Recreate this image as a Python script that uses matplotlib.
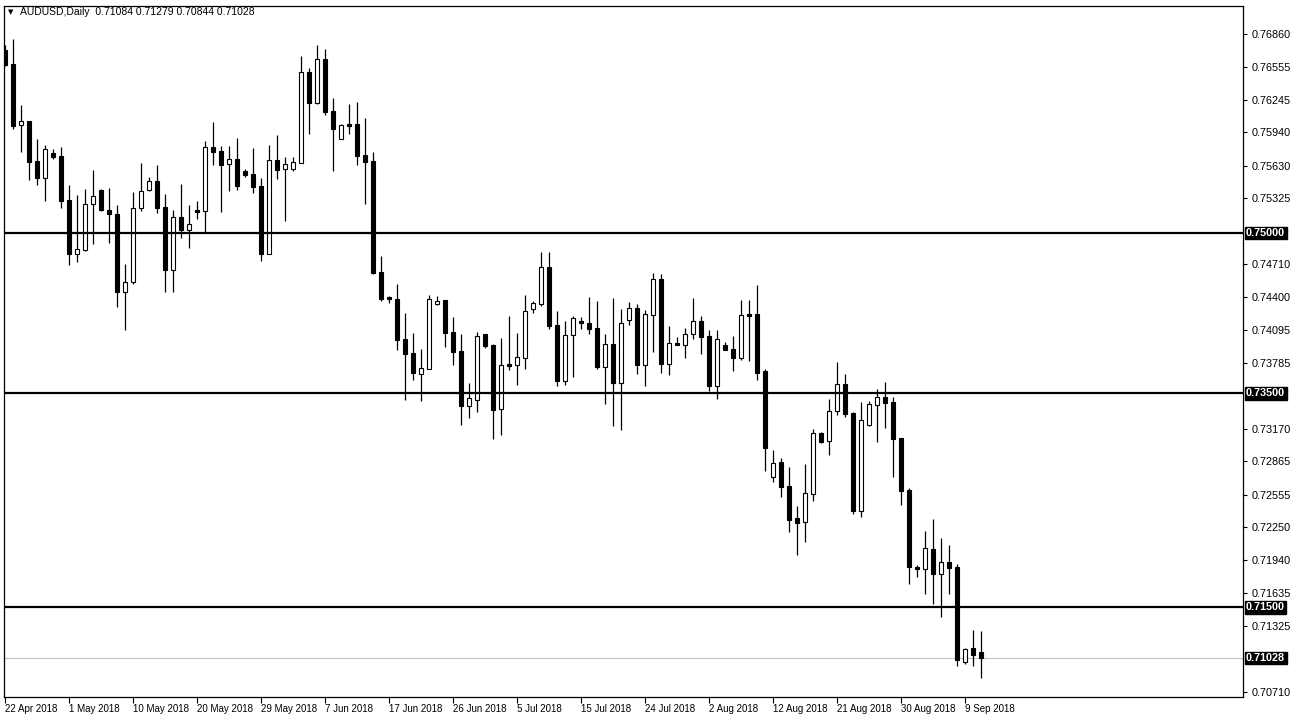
import matplotlib
matplotlib.use("Agg")
import matplotlib.pyplot as plt
from matplotlib.transforms import blended_transform_factory
import numpy as np

# AUDUSD daily candles, 22 Apr 2018 -> 11 Sep 2018
opens = [0.76711, 0.76580, 0.76007, 0.76047, 0.75673, 0.75517, 0.75748, 0.75720, 0.75309, 0.74801,
         0.74841, 0.75268, 0.75402, 0.75215, 0.75178, 0.74452, 0.74545, 0.75237, 0.75405, 0.75486,
         0.75243, 0.74657, 0.75150, 0.75031, 0.75215, 0.75209, 0.75801, 0.75764, 0.75642, 0.75689,
         0.75580, 0.75552, 0.75440, 0.74807, 0.75683, 0.75601, 0.75601, 0.75657, 0.76505, 0.76218,
         0.76627, 0.76143, 0.75882, 0.76019, 0.76019, 0.75729, 0.75673, 0.74633, 0.74402, 0.74383,
         0.74010, 0.73879, 0.73685, 0.73732, 0.74340, 0.74374, 0.74075, 0.73897, 0.73386, 0.73442,
         0.74056, 0.73954, 0.73358, 0.73776, 0.73769, 0.73835, 0.74293, 0.74340, 0.74683, 0.74140,
         0.73620, 0.74050, 0.74178, 0.74159, 0.74112, 0.73751, 0.73963, 0.73601, 0.74190, 0.74296,
         0.73769, 0.74231, 0.74567, 0.73779, 0.73969, 0.73956, 0.74053, 0.74175, 0.74035, 0.73573,
         0.73951, 0.73913, 0.73835, 0.74243, 0.74243, 0.73710, 0.72717, 0.72860, 0.72636, 0.72339,
         0.72302, 0.72564, 0.73131, 0.73059, 0.73339, 0.73589, 0.73318, 0.72405, 0.73209, 0.73395,
         0.73467, 0.73421, 0.73084, 0.72601, 0.71881, 0.71857, 0.72047, 0.71816, 0.71925, 0.71878,
         0.70993, 0.71124, 0.71084]
highs = [0.76757, 0.76811, 0.76197, 0.76047, 0.75879, 0.75823, 0.75785, 0.75804, 0.75449, 0.75355,
         0.75411, 0.75589, 0.75411, 0.75421, 0.75262, 0.74711, 0.75384, 0.75655, 0.75524, 0.75636,
         0.75365, 0.75215, 0.75458, 0.75262, 0.75299, 0.75857, 0.76038, 0.75811, 0.75811, 0.75885,
         0.75598, 0.75798, 0.75514, 0.75823, 0.75916, 0.75713, 0.75713, 0.76655, 0.76545, 0.76757,
         0.76720, 0.76262, 0.76019, 0.76206, 0.76225, 0.76075, 0.75760, 0.74785, 0.74414, 0.74524,
         0.74252, 0.74066, 0.73916, 0.74421, 0.74411, 0.74374, 0.74215, 0.74056, 0.73598, 0.74075,
         0.74056, 0.73963, 0.74019, 0.74225, 0.74066, 0.74421, 0.74365, 0.74823, 0.74823, 0.74271,
         0.74178, 0.74225, 0.74215, 0.74402, 0.74365, 0.74056, 0.74393, 0.74290, 0.74355, 0.74337,
         0.74281, 0.74626, 0.74617, 0.74131, 0.74028, 0.74112, 0.74393, 0.74222, 0.74094, 0.74094,
         0.73979, 0.74035, 0.74374, 0.74374, 0.74514, 0.73729, 0.72972, 0.72897, 0.72813, 0.72451,
         0.72844, 0.73168, 0.73140, 0.73449, 0.73795, 0.73682, 0.73327, 0.73421, 0.73430, 0.73542,
         0.73608, 0.73467, 0.73084, 0.72620, 0.71900, 0.72215, 0.72327, 0.72150, 0.72084, 0.71909,
         0.71124, 0.71290, 0.71279]
lows = [0.76561, 0.75975, 0.75760, 0.75496, 0.75449, 0.75302, 0.75695, 0.75237, 0.74704, 0.74732,
        0.74835, 0.74900, 0.75206, 0.74910, 0.74311, 0.74094, 0.74526, 0.75209, 0.75396, 0.75190,
        0.74452, 0.74452, 0.74956, 0.74863, 0.75134, 0.74997, 0.75636, 0.75199, 0.75396, 0.75405,
        0.75527, 0.75377, 0.74741, 0.74807, 0.75508, 0.75115, 0.75583, 0.75652, 0.75928, 0.76209,
        0.76106, 0.75583, 0.75882, 0.75928, 0.75639, 0.75274, 0.74620, 0.74367, 0.74349, 0.73910,
        0.73442, 0.73629, 0.73433, 0.73732, 0.74330, 0.73938, 0.73769, 0.73209, 0.73274, 0.73330,
        0.73928, 0.73078, 0.73115, 0.73723, 0.73582, 0.73732, 0.74255, 0.74321, 0.74106, 0.73573,
        0.73582, 0.73657, 0.74106, 0.74059, 0.73732, 0.73405, 0.73199, 0.73162, 0.74143, 0.73685,
        0.73573, 0.73891, 0.73695, 0.73676, 0.73956, 0.73835, 0.74012, 0.73872, 0.73526, 0.73452,
        0.73910, 0.73713, 0.73816, 0.73807, 0.73629, 0.72779, 0.72676, 0.72536, 0.72208, 0.71993,
        0.72115, 0.72498, 0.73040, 0.72928, 0.73302, 0.73283, 0.72377, 0.72349, 0.73199, 0.73050,
        0.73181, 0.72723, 0.72461, 0.71723, 0.71788, 0.71629, 0.71536, 0.71414, 0.71629, 0.70956,
        0.70975, 0.70956, 0.70844]
closes = [0.76570, 0.76003, 0.76047, 0.75667, 0.75517, 0.75785, 0.75713, 0.75302, 0.74801, 0.74851,
          0.75271, 0.75346, 0.75215, 0.75175, 0.74452, 0.74545, 0.75231, 0.75393, 0.75486, 0.75237,
          0.74657, 0.75150, 0.75031, 0.75082, 0.75199, 0.75801, 0.75760, 0.75639, 0.75689, 0.75442,
          0.75545, 0.75433, 0.74807, 0.75683, 0.75592, 0.75645, 0.75664, 0.76505, 0.76218, 0.76627,
          0.76134, 0.75975, 0.76010, 0.76003, 0.75723, 0.75667, 0.74629, 0.74386, 0.74386, 0.74003,
          0.73872, 0.73695, 0.73736, 0.74383, 0.74365, 0.74068, 0.73891, 0.73386, 0.73458, 0.74038,
          0.73947, 0.73349, 0.73764, 0.73760, 0.73841, 0.74271, 0.74346, 0.74683, 0.74134, 0.73620,
          0.74047, 0.74206, 0.74162, 0.74106, 0.73751, 0.73963, 0.73601, 0.74159, 0.74296, 0.73769,
          0.74240, 0.74567, 0.73779, 0.73969, 0.73956, 0.74053, 0.74175, 0.74031, 0.73573, 0.74007,
          0.73910, 0.73835, 0.74231, 0.74227, 0.73695, 0.72994, 0.72851, 0.72629, 0.72321, 0.72293,
          0.72570, 0.73131, 0.73047, 0.73337, 0.73589, 0.73311, 0.72405, 0.73252, 0.73403, 0.73467,
          0.73414, 0.73078, 0.72592, 0.71881, 0.71857, 0.72053, 0.71816, 0.71925, 0.71872, 0.71012,
          0.71109, 0.71059, 0.71028]

date_labels = ["22 Apr 2018", "1 May 2018", "10 May 2018", "20 May 2018", "29 May 2018",
               "7 Jun 2018", "17 Jun 2018", "26 Jun 2018", "5 Jul 2018", "15 Jul 2018",
               "24 Jul 2018", "2 Aug 2018", "12 Aug 2018", "21 Aug 2018", "30 Aug 2018", "9 Sep 2018"]
label_every = 8

price_ticks = [0.76860, 0.76555, 0.76245, 0.75940, 0.75630, 0.75325, 0.74710, 0.74400,
               0.74095, 0.73785, 0.73170, 0.72865, 0.72555, 0.72250, 0.71940, 0.71635,
               0.71325, 0.70710]
levels = [0.75000, 0.73500, 0.71500]
last_price = 0.71028
header = "AUDUSD,Daily  0.71084 0.71279 0.70844 0.71028"

plt.rcParams['font.family'] = ['Liberation Sans', 'DejaVu Sans']

fig = plt.figure(figsize=(12.9, 7.2), dpi=100)
ax = fig.add_axes([4/1290, 23/720, 1239/1290, 691/720])

o = np.array(opens); h = np.array(highs); l = np.array(lows); c = np.array(closes)
x = np.arange(len(o))
up = c >= o

ax.vlines(x, l, h, color='black', lw=0.9, zorder=3)
body_lo = np.minimum(o, c)
body_h = np.abs(c - o)
ax.bar(x[up], body_h[up], bottom=body_lo[up], width=0.5, color='white',
       edgecolor='black', lw=0.8, zorder=4)
ax.bar(x[~up], body_h[~up], bottom=body_lo[~up], width=0.5, color='black',
       edgecolor='black', lw=0.8, zorder=4)

for lv in levels:
    ax.axhline(lv, color='black', lw=1.6, zorder=5)
ax.axhline(last_price, color='#c0c0c0', lw=0.8, zorder=1)

ax.set_xlim(-0.16, 154.7)
ax.set_ylim(0.706633, 0.771217)

ax.yaxis.tick_right()
ax.set_yticks(price_ticks)
ax.set_yticklabels(["%.5f" % v for v in price_ticks])
ax.tick_params(axis='y', length=3, width=0.8, labelsize=7.8, pad=3)

ax.set_xticks(np.arange(len(date_labels)) * label_every - 0.05)
ax.set_xticklabels(date_labels, ha='left')
ax.tick_params(axis='x', length=4, width=0.8, labelsize=7, pad=1)

for s in ax.spines.values():
    s.set_linewidth(0.9)

trans = blended_transform_factory(ax.transAxes, ax.transData)
for v in levels + [last_price]:
    ax.text(1.0025, v, "%.5f" % v, transform=trans, color='white', fontsize=7.8,
            va='center', ha='left', fontweight='bold',
            bbox=dict(boxstyle='square,pad=0.12', fc='black', ec='black'))

fig.text(8/1290, 1 - 12/720, u"\u25bc", fontsize=5, va='center', ha='left',
         family='DejaVu Sans')
fig.text(20/1290, 1 - 12/720, header, fontsize=7.5, va='center', ha='left')

plt.savefig('out.png', dpi=100, facecolor='white')
